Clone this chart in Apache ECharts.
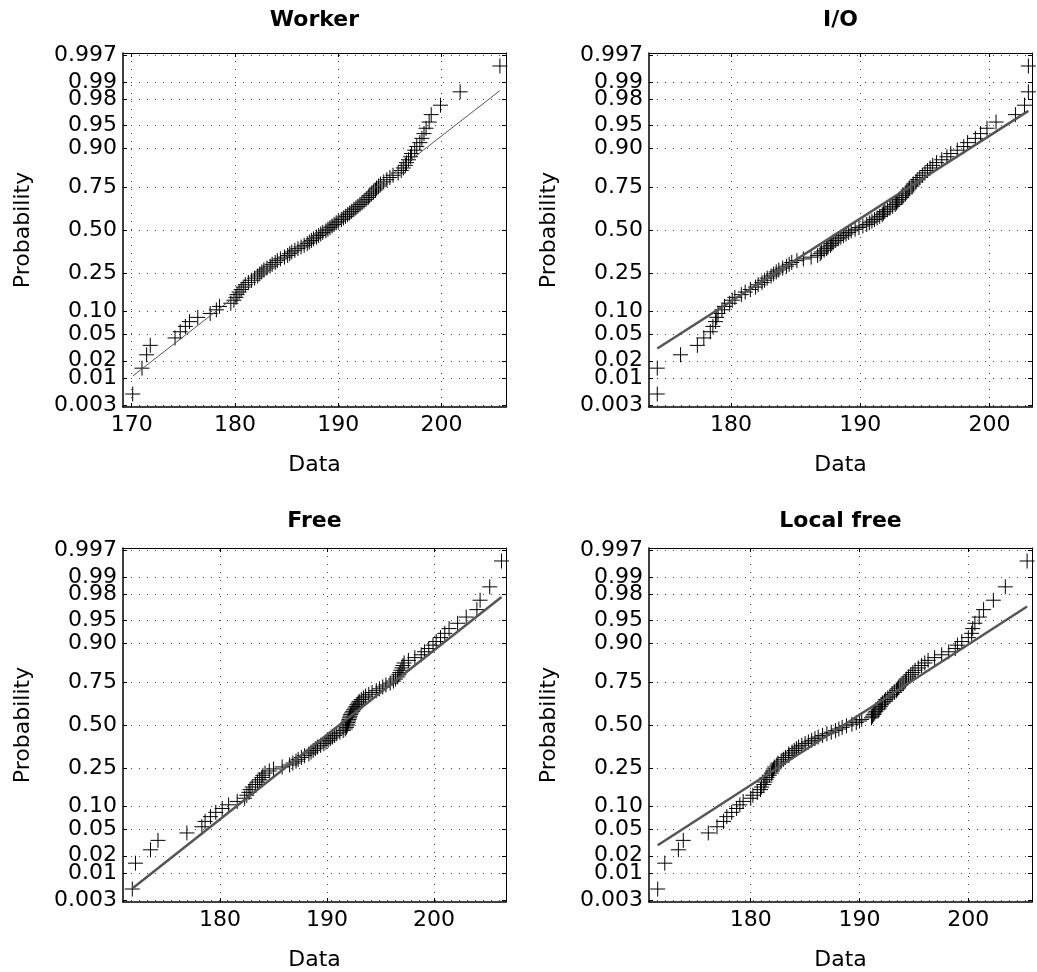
<!DOCTYPE html>
<html><head><meta charset="utf-8">
<script src="https://cdn.jsdelivr.net/npm/echarts@6/dist/echarts.min.js"></script>
<style>html,body{margin:0;padding:0;background:#fff}#c{width:1037px;height:972px}</style>
</head><body><div id="c"></div>
<script>
// ---------- DATA ----------
const titles = ['Worker', 'I/O', 'Free', 'Local free'];
const probTicks = [0.003, 0.01, 0.02, 0.05, 0.10, 0.25, 0.50, 0.75, 0.90, 0.95, 0.98, 0.99, 0.997];
const probTickLabels = ['0.003','0.01','0.02','0.05','0.10','0.25','0.50','0.75','0.90','0.95','0.98','0.99','0.997'];
const xTicksWorker = [170, 180, 190, 200];
const xTicksOther = [180, 190, 200];

// sorted sample values (100 each)
const workerData = [170.1,171.0,171.45,171.8,174.2,174.7,175.2,175.6,176.4,177.6,178.2,178.5,179.6,179.9,180.1,180.2,180.4,180.6,180.8,181.0,
181.3,181.6,181.9,182.2,182.4,182.6,182.8,183.1,183.4,183.6,183.9,184.1,184.4,184.8,185.1,185.3,185.5,185.8,186.1,186.4,
186.7,187.0,187.2,187.4,187.6,187.9,188.1,188.3,188.5,188.8,189.0,189.2,189.4,189.6,189.8,190.0,190.3,190.5,190.7,190.9,
191.1,191.3,191.5,191.7,191.9,192.1,192.3,192.5,192.7,192.9,193.0,193.2,193.4,193.6,193.7,193.9,194.1,194.4,194.7,195.0,
195.3,195.8,196.1,196.3,196.5,196.6,196.8,197.0,197.1,197.4,197.6,197.9,198.1,198.3,198.5,198.8,199.0,199.9,201.8,205.65];
const ioData = [174.3,174.3,176.1,177.4,177.9,178.4,178.6,178.8,178.9,179.0,179.3,179.5,179.9,180.1,180.3,180.8,181.1,181.5,181.9,182.1,
182.4,182.6,182.8,183.1,183.3,183.5,183.7,184.0,184.3,184.5,184.7,185.1,185.6,186.2,186.7,186.9,187.0,187.2,187.4,187.5,
187.7,187.8,187.9,188.1,188.3,188.5,188.7,188.9,189.1,189.3,189.6,189.9,190.2,190.5,190.7,190.9,191.1,191.3,191.5,191.7,
191.8,191.9,192.1,192.3,192.5,192.7,192.8,192.9,193.0,193.2,193.3,193.5,193.6,193.7,193.8,194.0,194.1,194.3,194.4,194.6,
194.8,195.0,195.2,195.4,195.6,195.9,196.3,196.7,197.0,197.5,198.0,198.3,198.9,199.3,199.8,200.5,202.0,202.7,203.0,203.0];
const freeData = [171.8,172.1,173.5,174.2,176.9,178.3,178.6,179.1,179.6,180.2,180.8,181.6,182.3,182.5,182.7,182.8,183.0,183.3,183.5,183.7,
183.9,184.0,184.2,184.6,185.0,185.8,186.5,186.8,187.1,187.3,187.6,187.9,188.3,188.5,188.7,188.9,189.1,189.4,189.7,189.9,
190.1,190.3,190.5,190.7,190.9,191.2,191.5,191.7,191.8,191.85,191.9,191.95,192.0,192.05,192.1,192.15,192.2,192.3,192.4,192.5,
192.6,192.7,192.8,192.9,193.0,193.2,193.4,193.6,193.9,194.2,194.6,194.9,195.2,195.5,195.9,196.2,196.4,196.6,196.7,196.8,
196.9,197.0,197.1,197.2,197.6,198.2,198.8,199.1,199.5,199.9,200.2,200.6,201.0,201.4,202.2,203.0,204.0,204.3,205.2,206.3];
const localFreeData = [171.45,172.1,173.35,173.8,176.1,176.9,177.5,177.8,178.25,178.7,179.0,179.3,180.0,180.2,180.6,180.9,181.0,181.2,181.3,181.4,
181.5,181.7,181.9,182.0,182.1,182.2,182.4,182.5,182.8,183.0,183.2,183.5,183.5,183.8,184.0,184.2,184.4,184.7,185.0,185.3,
185.6,185.9,186.2,186.6,187.0,187.4,187.8,188.1,188.4,188.8,189.3,189.7,190.0,190.2,191.1,191.2,191.3,191.4,191.5,191.7,
191.8,191.9,192.0,192.1,192.3,192.4,192.6,192.8,193.0,193.2,193.4,193.5,193.6,193.8,194.0,194.2,194.3,194.5,194.7,194.9,
195.1,195.4,195.7,196.0,196.3,196.9,197.55,198.2,198.8,199.0,199.4,200.0,200.3,200.4,200.6,201.0,201.4,202.3,203.4,205.4];

// reference lines: [x0, x1] and probabilities [p0, p1]
const refLineX = [[170.1, 205.65], [174.3, 203.0], [171.8, 206.3], [171.45, 205.4]];
const refLineP = [[0.0109, 0.9857], [0.0314, 0.9693], [0.0051, 0.9778], [0.0294, 0.9686]];
const xLimits = [[169.16, 206.24], [173.66, 203.28], [170.93, 206.72], [170.65, 205.85]];

// ---------- helpers ----------
function norminv(p){
 const a=[-3.969683028665376e+01,2.209460984245205e+02,-2.759285104469687e+02,1.383577518672690e+02,-3.066479806614716e+01,2.506628277459239e+00];
 const b=[-5.447609879822406e+01,1.615858368580409e+02,-1.556989798598866e+02,6.680131188771972e+01,-1.328068155288572e+01];
 const c=[-7.784894002430293e-03,-3.223964580411365e-01,-2.400758277161838e+00,-2.549732539343734e+00,4.374664141464968e+00,2.938163982698783e+00];
 const d=[7.784695709041462e-03,3.224671290700398e-01,2.445134137142996e+00,3.754408661907416e+00];
 const pl=0.02425, ph=1-pl; let q,r;
 if(p<pl){q=Math.sqrt(-2*Math.log(p));return (((((c[0]*q+c[1])*q+c[2])*q+c[3])*q+c[4])*q+c[5])/((((d[0]*q+d[1])*q+d[2])*q+d[3])*q+1);}
 if(p<=ph){q=p-0.5;r=q*q;return (((((a[0]*r+a[1])*r+a[2])*r+a[3])*r+a[4])*r+a[5])*q/(((((b[0]*r+b[1])*r+b[2])*r+b[3])*r+b[4])*r+1);}
 q=Math.sqrt(-2*Math.log(1-p));return -(((((c[0]*q+c[1])*q+c[2])*q+c[3])*q+c[4])*q+c[5])/((((d[0]*q+d[1])*q+d[2])*q+d[3])*q+1);
}
const zTicks = probTicks.map(norminv);
function probLabel(v){
  let best=0, bd=1e9;
  zTicks.forEach((z,i)=>{const dd=Math.abs(z-v); if(dd<bd){bd=dd;best=i;}});
  return probTickLabels[best];
}
function toPoints(arr){
  const n = arr.length;
  return arr.map((x,i)=>[x, norminv((i+0.5)/n)]);
}

// ---------- layout ----------
const FONT = 'DejaVu Sans, sans-serif';
const FS = 22;
const Y_LIM = 2.78;
const grids = [
  {left:123, top:53, width:383, height:354},
  {left:649, top:53, width:383, height:354},
  {left:123, top:548, width:383, height:354},
  {left:649, top:548, width:383, height:354}
];
const titleTops = [4, 4, 505, 505];
const datasets = [workerData, ioData, freeData, localFreeData];
const xTickSets = [xTicksWorker, xTicksOther, xTicksOther, xTicksOther];
const lineWidths = [1, 2.5, 2.5, 2.5];

const option = {
  animation:false,
  backgroundColor:'#fff',
  textStyle:{fontFamily:FONT, color:'#000'},
  title:[], grid:[], xAxis:[], yAxis:[], series:[]
};
const dotted = {show:true, lineStyle:{color:'#444', width:1, type:[1,7]}};
grids.forEach((g,k)=>{
  option.grid.push(Object.assign({containLabel:false}, g));
  option.title.push({
    text:titles[k], left:g.left+g.width/2-5, top:titleTops[k], textAlign:'center',
    textStyle:{fontFamily:FONT, fontSize:FS, fontWeight:'bold', color:'#000'}
  });
  const xl = xLimits[k];
  const common = {type:'value', gridIndex:k, min:xl[0], max:xl[1]};
  option.xAxis.push(Object.assign({}, common, {
    position:'bottom', name:'Data', nameLocation:'middle', nameGap:47,
    nameTextStyle:{fontFamily:FONT, fontSize:FS, color:'#000'},
    axisLine:{show:true, onZero:false, lineStyle:{color:'#000', width:1.5}},
    axisTick:{show:true, inside:true, length:4, customValues:xTickSets[k], lineStyle:{color:'#000'}},
    axisLabel:{show:true, customValues:xTickSets[k], margin:7, fontFamily:FONT, fontSize:FS, color:'#000'},
    splitLine:dotted
  }));
  option.xAxis.push(Object.assign({}, common, {
    position:'top',
    axisLine:{show:true, onZero:false, lineStyle:{color:'#000', width:1}},
    axisTick:{show:true, inside:true, length:4, customValues:xTickSets[k], lineStyle:{color:'#000'}},
    axisLabel:{show:false}, splitLine:{show:false}
  }));
  const ycommon = {type:'value', gridIndex:k, min:-Y_LIM, max:Y_LIM};
  option.yAxis.push(Object.assign({}, ycommon, {
    position:'left', name:'Probability', nameLocation:'middle', nameGap:89,
    nameTextStyle:{fontFamily:FONT, fontSize:FS, color:'#000'},
    axisLine:{show:true, onZero:false, lineStyle:{color:'#000', width:1.5}},
    axisTick:{show:true, inside:true, length:4, customValues:zTicks, lineStyle:{color:'#000'}},
    axisLabel:{show:true, customValues:zTicks, margin:6, fontFamily:FONT, fontSize:FS, color:'#000', formatter:probLabel},
    splitLine:dotted
  }));
  option.yAxis.push(Object.assign({}, ycommon, {
    position:'right',
    axisLine:{show:true, onZero:false, lineStyle:{color:'#000', width:1}},
    axisTick:{show:true, inside:true, length:4, customValues:zTicks, lineStyle:{color:'#000'}},
    axisLabel:{show:false}, splitLine:{show:false}
  }));
  option.series.push({
    type:'scatter', xAxisIndex:2*k, yAxisIndex:2*k,
    data:toPoints(datasets[k]),
    symbol:'path://M7,0L7,14M0,7L14,7', symbolSize:15,
    itemStyle:{color:'none', borderColor:'#000', borderWidth:1, opacity:1},
    emphasis:{disabled:true}, silent:true
  });
  option.series.push({
    type:'line', xAxisIndex:2*k, yAxisIndex:2*k,
    data:[[refLineX[k][0], norminv(refLineP[k][0])],[refLineX[k][1], norminv(refLineP[k][1])]],
    showSymbol:false, symbol:'none',
    lineStyle:{color:'#555', width:lineWidths[k]}, silent:true, z:3
  });
});
const chart = echarts.init(document.getElementById('c'), null, {renderer:'canvas'});
chart.setOption(option);
</script>
</body></html>
